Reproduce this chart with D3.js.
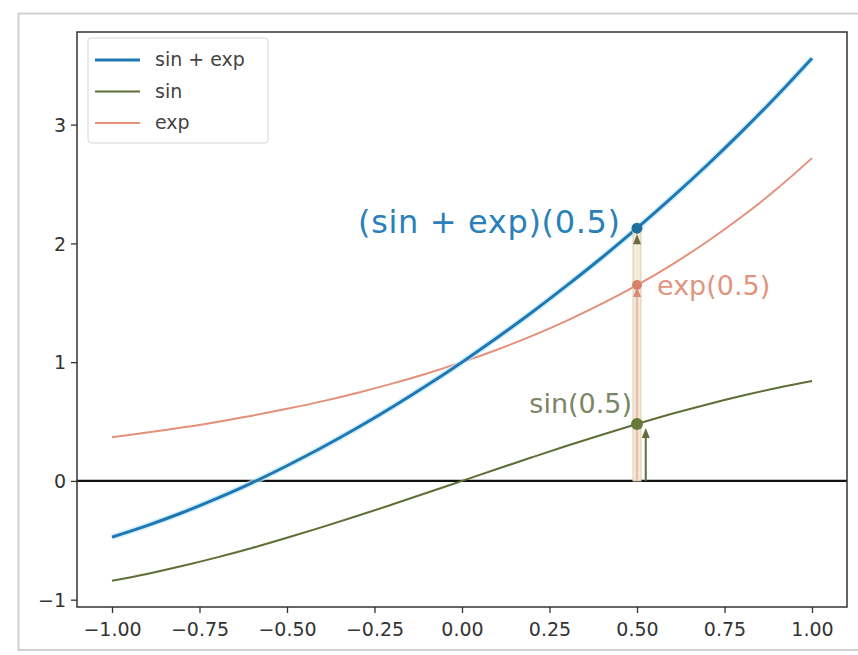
<!DOCTYPE html>
<html><head><meta charset="utf-8">
<script src="https://cdn.jsdelivr.net/npm/d3@7"></script>
<style>body{margin:0;background:#fff;}svg{display:block;font-family:"DejaVu Sans",sans-serif;}</style>
</head><body>
<svg id="c" width="858" height="655"></svg>
<script>
const xs = [-1,-0.9,-0.8,-0.7,-0.6,-0.5,-0.4,-0.3,-0.2,-0.1,0,0.1,0.2,0.3,0.4,0.5,0.6,0.7,0.8,0.9,1];
const sinVals = [-0.841,-0.783,-0.717,-0.644,-0.565,-0.479,-0.389,-0.296,-0.199,-0.100,0,0.100,0.199,0.296,0.389,0.479,0.565,0.644,0.717,0.783,0.841];
const expVals = [0.368,0.407,0.449,0.497,0.549,0.607,0.670,0.741,0.819,0.905,1.000,1.105,1.221,1.350,1.492,1.649,1.822,2.014,2.226,2.460,2.718];
const sumVals = [-0.473,-0.376,-0.268,-0.147,-0.016,0.128,0.281,0.445,0.620,0.805,1.000,1.205,1.420,1.646,1.881,2.128,2.387,2.658,2.943,3.243,3.559];
const seriesNames = ["sin + exp","sin","exp"];
const xTicks = [-1,-0.75,-0.5,-0.25,0,0.25,0.5,0.75,1];
const yTicks = [-1,0,1,2,3];
const markX = 0.5;
const markSin = 0.479, markExp = 1.649, markSum = 2.128;
const markLabels = ["(sin + exp)(0.5)","exp(0.5)","sin(0.5)"];

const colSum = "#1f78b4", colSin = "#5e6e36", colExp = "#e4907a";
const svg = d3.select("#c");
const L=77,R=847,T=32,B=607;
const x = d3.scaleLinear().domain([-1.1,1.1]).range([L,R]);
const y = d3.scaleLinear().domain([-1.0616,3.780]).range([B,T]);

// outer frame
svg.append("rect").attr("x",18.5).attr("y",13.5).attr("width",900).attr("height",636.5)
  .attr("fill","none").attr("stroke","#cfcfcf").attr("stroke-width",2);

svg.append("defs").append("clipPath").attr("id","cp").append("rect")
  .attr("x",L).attr("y",T).attr("width",R-L).attr("height",B-T);
const g = svg.append("g").attr("clip-path","url(#cp)");

// zero line
g.append("line").attr("x1",L).attr("x2",R).attr("y1",y(0)).attr("y2",y(0))
  .attr("stroke","#111").attr("stroke-width",2.4);

const line = vals => d3.line().x((d,i)=>x(xs[i])).y(d=>y(d)).curve(d3.curveCatmullRom)(vals);
g.append("path").attr("d",line(expVals)).attr("fill","none").attr("stroke",colExp).attr("stroke-width",2);
g.append("path").attr("d",line(sinVals)).attr("fill","none").attr("stroke",colSin).attr("stroke-width",2);
g.append("path").attr("d",line(sumVals)).attr("fill","none").attr("stroke","#bfe8f7").attr("stroke-width",6).attr("opacity",0.7);
g.append("path").attr("d",line(sumVals)).attr("fill","none").attr("stroke",colSum).attr("stroke-width",3);

// arrows
const px = x(markX);
g.append("rect").attr("x",px-4).attr("y",y(markSum)).attr("width",8).attr("height",y(0)-y(markSum))
  .attr("fill","#f3ecd6").attr("stroke","#d9cfae").attr("stroke-width",1);
g.append("line").attr("x1",px).attr("x2",px).attr("y1",y(0)).attr("y2",y(markExp)+6)
  .attr("stroke","#ecbcae").attr("stroke-width",2.5);
function head(cx, tipY, col){
  g.append("path").attr("d",`M${cx},${tipY} L${cx-4},${tipY+10} L${cx+4},${tipY+10} Z`).attr("fill",col);
}
head(px, y(markExp)+2, "#d98c74");
head(px, y(markSum)+6, "#6b6a45");
const px2 = x(0.525);
g.append("line").attr("x1",px2).attr("x2",px2).attr("y1",y(0)).attr("y2",y(markSin)+10)
  .attr("stroke",colSin).attr("stroke-width",2);
head(px2, y(markSin)+4, colSin);

// points
g.append("circle").attr("cx",px).attr("cy",y(markSum)).attr("r",5.5).attr("fill","#1d6f9f");
g.append("circle").attr("cx",px).attr("cy",y(markExp)).attr("r",5).attr("fill","#d9806a");
g.append("circle").attr("cx",px).attr("cy",y(markSin)).attr("r",6).attr("fill","#6a7a3a");

// labels
svg.append("text").attr("x",620).attr("y",y(markSum)+5).attr("text-anchor","end")
  .attr("font-size",32).attr("textLength",262).attr("fill","#2a80ba").text(markLabels[0]);
svg.append("text").attr("x",657).attr("y",y(markExp)+10).attr("text-anchor","start")
  .attr("font-size",27).attr("fill","#e0957e").text(markLabels[1]);
svg.append("text").attr("x",632).attr("y",y(markSin)-11).attr("text-anchor","end")
  .attr("font-size",27).attr("fill","#7d8663").text(markLabels[2]);

// axes
const fmtX = d => d3.format(".2f")(d).replace("-","\u2212");
const xa = svg.append("g").attr("transform",`translate(0,${B})`)
  .call(d3.axisBottom(x).tickValues(xTicks).tickFormat(fmtX).tickSize(6).tickSizeOuter(0));
const ya = svg.append("g").attr("transform",`translate(${L},0)`)
  .call(d3.axisLeft(y).tickValues(yTicks).tickFormat(d=>String(d).replace("-","\u2212")).tickSize(6).tickSizeOuter(0));
[xa,ya].forEach(a=>{
  a.select(".domain").remove();
  a.selectAll("line").attr("stroke","#333").attr("stroke-width",1.3);
  a.selectAll("text").attr("font-size",19).attr("fill","#333").attr("font-family","DejaVu Sans");
});
xa.selectAll("text").attr("dy","1.05em");
ya.selectAll("text").attr("dx","-0.1em").attr("dy","0.35em");
svg.append("rect").attr("x",L).attr("y",T).attr("width",R-L).attr("height",B-T)
  .attr("fill","none").attr("stroke","#333").attr("stroke-width",1.5);

// legend
const lg = svg.append("g");
lg.append("rect").attr("x",88).attr("y",38).attr("width",180).attr("height",105).attr("rx",3)
  .attr("fill","#fff").attr("fill-opacity",0.85).attr("stroke","#d5d5d5");
const lcols=[colSum,colSin,colExp], lws=[3,2,2];
seriesNames.forEach((n,i)=>{
  const yy = 60 + i*31.5;
  lg.append("line").attr("x1",95).attr("x2",140).attr("y1",yy).attr("y2",yy).attr("stroke",lcols[i]).attr("stroke-width",lws[i]);
  lg.append("text").attr("x",155).attr("y",yy+6).attr("font-size",19).attr("fill","#444").text(n);
});
</script>
</body></html>
